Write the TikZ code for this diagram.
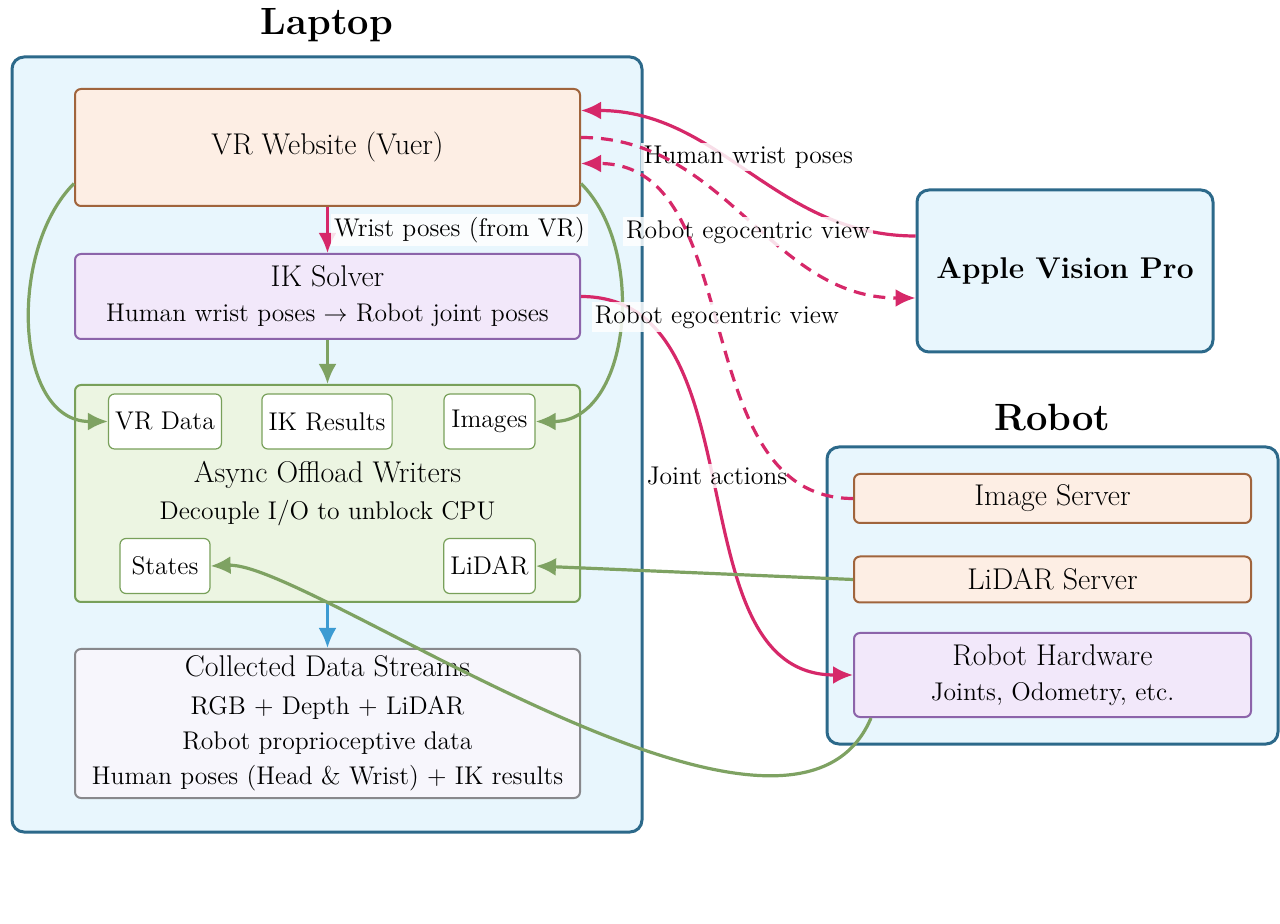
\documentclass[tikz,border=0pt]{standalone}
\usepackage{amsmath}
\usepackage{amssymb}
\usepackage{tikz}
\usetikzlibrary{calc}
\usetikzlibrary{positioning}
\usetikzlibrary{arrows.meta}
\usepackage{xcolor}

\definecolor{pinkline}{RGB}{214,40,105}
\definecolor{greenline}{RGB}{126,162,98}
\definecolor{blueline}{RGB}{60,155,210}
\definecolor{contfill}{RGB}{232,246,253}
\definecolor{contedge}{RGB}{44,105,138}
\definecolor{peachfill}{RGB}{253,238,228}
\definecolor{peachedge}{RGB}{160,100,60}
\definecolor{lavfill}{RGB}{242,232,250}
\definecolor{lavedge}{RGB}{140,100,170}
\definecolor{mintfill}{RGB}{236,245,226}
\definecolor{mintedge}{RGB}{120,160,90}
\definecolor{collfill}{RGB}{247,246,252}
\definecolor{colledge}{RGB}{136,136,140}

\newcommand{\boxfont}{\fontsize{15}{17.5}\selectfont}
\newcommand{\subfont}{\fontsize{12.8}{14.5}\selectfont}
\newcommand{\headfont}{\fontsize{19}{22}\selectfont\bfseries}

\tikzset{
    container/.style={draw=contedge, fill=contfill, line width=1.5pt, rounded corners=6pt},
    basebox/.style={line width=1pt, rounded corners=3pt, align=center, font=\boxfont, minimum width=252.5pt},
    peachbox/.style={basebox, draw=peachedge, fill=peachfill},
    lavbox/.style={basebox, draw=lavedge, fill=lavfill},
    mintbox/.style={basebox, draw=mintedge, fill=mintfill},
    collbox/.style={basebox, draw=colledge, fill=collfill},
    chip/.style={draw=mintedge, fill=white, line width=0.6pt, rounded corners=3pt, font=\subfont, minimum height=27.5pt},
    headtext/.style={font=\headfont},
    edgelabel/.style={fill=white, fill opacity=0.85, text opacity=1, inner sep=1.5pt, font=\subfont},
    pinkarrow/.style={draw=pinkline, line width=1.6pt},
    greenarrow/.style={draw=greenline, line width=1.6pt},
    bluearrow/.style={draw=blueline, line width=1.6pt}
}

\begin{document}
\begin{tikzpicture}[x=0.5pt, y=-0.5pt, >={Latex[length=10pt,width=9pt]}]
    \useasboundingbox (0,0) rectangle (1280,924);

    % 1. The two containers and their titles
    \node[container, minimum width=315pt, minimum height=387.5pt] (laptop) at (327,444.5) {};
    \node[headtext] (laptitle) at (327,25) {Laptop};
    \node[container, minimum width=225.5pt, minimum height=148.5pt] (robot) at (1052.5,595.5) {};
    \node[headtext] (robtitle) at (1052.5,418) {Robot};

    % 2. Boxes on the laptop
    \node[peachbox, minimum height=58.5pt] (vr) at (327.5,147.5) {VR Website (Vuer)};
    \node[lavbox, minimum height=42.5pt] (ik) at (327.5,296.5)
        {IK Solver\\[0pt]{\subfont Human wrist poses $\rightarrow$ Robot joint poses}};
    \node[mintbox, minimum height=108.5pt] (async) at (327.5,493.5)
        {Async Offload Writers\\[1pt]{\subfont Decouple I/O to unblock CPU}};
    \node[collbox, minimum height=74.5pt] (coll) at (327.5,723.5)
        {Collected Data Streams\\[1.5pt]{\subfont RGB + Depth + LiDAR}\\[0pt]{\subfont Robot proprioceptive data}\\[0pt]{\subfont Human poses (Head \& Wrist) + IK results}};

    % 3. Writer slots inside the async box
    \node[chip, minimum width=56pt] (vrdata) at (165,421.5) {VR Data};
    \node[chip, minimum width=65pt] (ikres) at (327,421.5) {IK Results};
    \node[chip, minimum width=45.5pt] (images) at (489.5,421.5) {Images};
    \node[chip, minimum width=45pt] (states) at (165,566) {States};
    \node[chip, minimum width=45.5pt] (lidar) at (489.5,566) {LiDAR};

    % 4. Headset and robot boxes
    \node[container, font=\fontsize{15}{18}\selectfont\bfseries, minimum width=148pt, minimum height=81pt] (avp) at (1065,271) {Apple Vision Pro};
    \node[peachbox, minimum width=198.5pt, minimum height=24.5pt] (imgsrv) at (1052.5,498.5) {Image Server};
    \node[peachbox, minimum width=198.5pt, minimum height=23pt] (lidsrv) at (1052.5,579.5) {LiDAR Server};
    \node[lavbox, minimum width=198.5pt, minimum height=42pt] (rh) at (1052.5,675)
        {Robot Hardware\\[0pt]{\subfont Joints, Odometry, etc.}};

    % 5. Flow on the laptop
    \draw[pinkarrow, ->] (vr) -- (ik) node[edgelabel, midway, right=1pt] {Wrist poses (from VR)};
    \draw[greenarrow, ->] (ik) -- (async);
    \draw[bluearrow, ->] (async) -- (coll);
    \draw[greenarrow, ->] ($(vr.west)+(0,36)$) to[out=225, in=180] (vrdata.west);
    \draw[greenarrow, ->] ($(vr.east)+(0,36)$) to[out=-45, in=0] (images.east);

    % 6. Links to the headset
    \draw[pinkarrow, ->] ($(avp.west)+(0,-35)$) to[out=180, in=0]
        node[edgelabel, midway, yshift=8pt] {Human wrist poses} ($(vr.east)+(0,-37)$);
    \draw[pinkarrow, ->, dash pattern=on 6pt off 4pt] ($(vr.east)+(0,-10)$) to[out=0, in=180]
        node[edgelabel, midway, yshift=-7pt] {Robot egocentric view} ($(avp.west)+(0,27)$);

    % 7. Links to the robot
    \draw[pinkarrow, ->] (ik.east) to[out=0, in=180]
        node[edgelabel, midway, yshift=5pt] {Joint actions} (rh.west);
    \draw[pinkarrow, ->, dash pattern=on 6pt off 4pt] (imgsrv.west) to[out=180, in=0]
        node[edgelabel, midway, yshift=7pt] {Robot egocentric view} ($(vr.east)+(0,16)$);
    \draw[greenarrow, ->] (lidsrv.west) -- (lidar.east);
    \draw[greenarrow, ->] ($(rh.south west)+(18,0)$) .. controls (790,910) and (310,562) .. (states.east);

\end{tikzpicture}
\end{document}
